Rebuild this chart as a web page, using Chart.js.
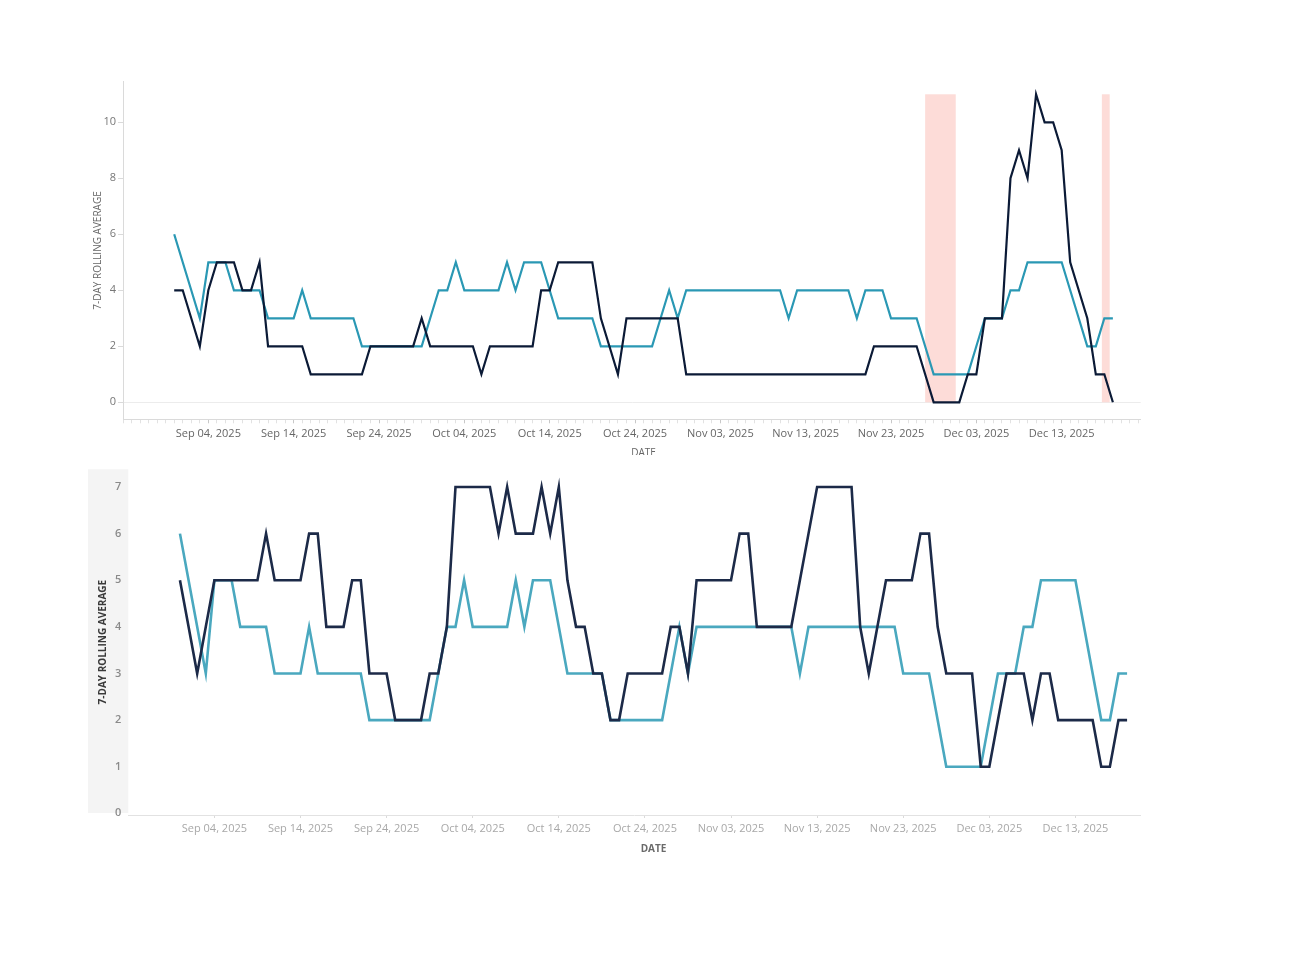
<!DOCTYPE html>
<html><head><meta charset="utf-8">
<script src="https://cdn.jsdelivr.net/npm/chart.js@4.4.1/dist/chart.umd.min.js"></script>
<style>
html,body{margin:0;padding:0;background:#fff;}
#wrap{position:relative;width:1304px;height:978px;overflow:hidden;background:#fff;}
#top{position:absolute;left:0;top:0;width:1304px;height:455px;overflow:hidden;}
#bot{position:absolute;left:0;top:455px;width:1304px;height:420px;background:#fff;}
canvas{display:block;}
</style></head><body>
<div id="wrap">
<div id="top"><canvas id="c1" width="1304" height="470"></canvas></div>
<div id="bot"><canvas id="c2" width="1304" height="420"></canvas></div>
</div>
<script>
// ---------- data ----------
const axisStartDate = '2025-08-25';
const firstDataDate = '2025-08-31';
const xTitleText = 'DATE';
const yTitleText = '7-DAY ROLLING AVERAGE';
const xTickLabels = ['Sep 04, 2025','Sep 14, 2025','Sep 24, 2025','Oct 04, 2025','Oct 14, 2025','Oct 24, 2025','Nov 03, 2025','Nov 13, 2025','Nov 23, 2025','Dec 03, 2025','Dec 13, 2025'];
const yTicksTop = [0,2,4,6,8,10];
const yTicksBottom = [0,1,2,3,4,5,6,7];

const topNavy = [4,4,3,2,4,5,5,5,4,4,5, 2,2,2,2,2, 1,1,1,1,1,1,1, 2,2,2,2,2,2, 3, 2,2,2,2,2,2, 1, 2,2,2,2,2,2, 4,4, 5,5,5,5,5, 3,2,1, 3,3,3,3,3,3,3,
  1,1,1,1,1,1,1,1,1,1,1,1,1,1,1,1,1,1,1,1,1,1, 2,2,2,2,2,2, 1, 0,0,0,0, 1,1, 3,3,3, 8,9,8,11,10,10,9,5,4,3,1,1,0];
const topTeal = [6,5,4,3,5,5,5,4,4,4,4, 3,3,3,3, 4, 3,3,3,3,3,3, 2,2,2,2,2,2,2,2, 3, 4,4, 5, 4,4,4,4,4, 5,4, 5,5,5, 4, 3,3,3,3,3, 2,2,2,2,2,2,2, 3,4,3,
  4,4,4,4,4,4,4,4,4,4,4,4, 3, 4,4,4,4,4,4,4, 3, 4,4,4, 3,3,3,3, 2, 1,1,1,1,1, 2, 3,3,3, 4,4, 5,5,5,5,5, 4,3, 2,2, 3,3];
const bottomNavy = [5,4,3,4,5, 5,5,5,5,5, 6, 5,5,5,5, 6,6, 4,4,4, 5,5, 3,3,3, 2,2,2,2, 3,3, 4, 7,7,7,7,7, 6,7, 6,6,6, 7,6,7, 5,4,4, 3,3, 2,2, 3,3,3,3,3, 4,4, 3,
  5,5,5,5,5, 6,6, 4,4,4,4,4, 5,6, 7,7,7,7,7, 4,3,4, 5,5,5,5, 6,6, 4, 3,3,3,3, 1,1, 2, 3,3,3, 2, 3,3, 2,2,2,2,2, 1,1, 2,2];
const bottomTeal = [6,5,4,3,5,5,5,4,4,4,4, 3,3,3,3, 4, 3,3,3,3,3,3, 2,2,2,2,2,2,2,2, 3, 4,4, 5, 4,4,4,4,4, 5,4, 5,5,5, 4, 3,3,3,3,3, 2,2,2,2,2,2,2, 3,4,3,
  4,4,4,4,4,4,4,4,4,4,4,4, 3, 4,4,4,4,4,4,4, 4, 4,4,4, 3,3,3,3, 2, 1,1,1,1,1, 2, 3,3,3, 4,4, 5,5,5,5,5, 4,3, 2,2, 3,3];
// highlighted date ranges on the top chart
const shadedRanges = [['2025-11-27T00:00','2025-11-30T14:00'], ['2025-12-17T17:00','2025-12-18T15:00']];

// ---------- helpers ----------
const DAY = 86400000;
const t0 = Date.parse(axisStartDate + 'T00:00:00Z');
const dayOfIso = s => (Date.parse(s + (s.length === 10 ? 'T00:00:00Z' : ':00Z')) - t0) / DAY;
const dayOfLabel = s => { const d = new Date(s); return (Date.UTC(d.getFullYear(), d.getMonth(), d.getDate()) - t0) / DAY; };
const firstDay = dayOfIso(firstDataDate);
const toPoints = arr => arr.map((v, i) => ({x: firstDay + i, y: v}));
const labelMap = {};
xTickLabels.forEach(l => { labelMap[dayOfLabel(l)] = l; });

const shadePlugin = {
  id: 'shade',
  beforeDatasetsDraw(chart, args, opts) {
    if (!opts.ranges) return;
    const {ctx, scales: {x, y}} = chart;
    ctx.save();
    ctx.fillStyle = opts.color;
    const yTop = y.getPixelForValue(opts.top), yBot = y.getPixelForValue(0);
    opts.ranges.forEach(([a, b]) => {
      const x1 = x.getPixelForValue(dayOfIso(a)), x2 = x.getPixelForValue(dayOfIso(b));
      ctx.fillRect(x1, yTop, x2 - x1, yBot - yTop);
    });
    ctx.restore();
  }
};
const bandPlugin = {
  id: 'band',
  beforeDraw(chart, args, opts) {
    if (!opts.color) return;
    const {ctx, chartArea} = chart;
    ctx.save();
    ctx.fillStyle = opts.color;
    ctx.fillRect(opts.left, chartArea.top, chartArea.left - opts.left, chartArea.bottom - chartArea.top - 2);
    ctx.restore();
  }
};
// x-axis title, centred on the middle of Tableau's full date axis
const xTitlePlugin = {
  id: 'xTitle',
  afterDraw(chart, args, opts) {
    const {ctx, scales: {x}} = chart;
    ctx.save();
    ctx.font = (opts.weight || 'normal') + ' 10px "Open Sans"';
    ctx.fillStyle = opts.color;
    ctx.textAlign = 'center';
    ctx.textBaseline = 'middle';
    ctx.fillText(xTitleText, x.getPixelForValue(opts.centerDay), x.bottom - 6);
    ctx.restore();
  }
};

function makeChart(id, cfg) {
  return new Chart(document.getElementById(id), {
    type: 'line',
    data: {
      datasets: [
        {data: toPoints(cfg.navy), borderColor: cfg.navyColor, borderWidth: cfg.lw, pointRadius: 0, tension: 0, order: 1},
        {data: toPoints(cfg.teal), borderColor: cfg.tealColor, borderWidth: cfg.lw, pointRadius: 0, tension: 0, order: 2}
      ]
    },
    options: {
      responsive: false, animation: false, events: [],
      layout: {padding: cfg.padding},
      plugins: {
        legend: {display: false}, tooltip: {enabled: false},
        shade: cfg.shade || {},
        band: cfg.band || {},
        xTitle: {color: cfg.xTitleColor, weight: cfg.titleWeight, centerDay: cfg.titleDay}
      },
      scales: {
        x: {
          type: 'linear', min: 0, max: cfg.xMax,
          afterBuildTicks: s => { const t = []; for (let d = 0; d <= Math.floor(cfg.xMax); d++) t.push({value: d}); s.ticks = t; },
          afterFit: s => { s.height = cfg.xH; },
          ticks: {autoSkip: false, maxRotation: 0, minRotation: 0, padding: cfg.xTickPad, color: cfg.xTickColor,
            font: {family: 'Open Sans', size: 11}, callback: v => labelMap[v] || ''},
          grid: {drawOnChartArea: false, tickLength: cfg.xTickLen, color: 'rgba(0,0,0,0)',
            tickColor: c => labelMap[c.tick && c.tick.value] ? cfg.majorTick : cfg.minorTick},
          border: {display: true, color: cfg.xBorder, dash: cfg.xDash},
          title: {display: false}
        },
        y: {
          min: cfg.yMin, max: cfg.yMax,
          afterBuildTicks: s => { s.ticks = cfg.yTicks.map(v => ({value: v})); },
          afterFit: s => { s.width = cfg.yW; },
          ticks: {padding: cfg.yTickPad, color: cfg.yTickColor, font: {family: 'Open Sans', size: 11, weight: cfg.yTickWeight}},
          grid: {drawOnChartArea: cfg.zeroLine, tickLength: cfg.yTickLen,
            color: c => (c.tick && c.tick.value === 0) ? '#ececec' : 'rgba(0,0,0,0)', tickColor: cfg.yTickMark},
          border: {display: cfg.yBorder !== null, color: cfg.yBorder || 'rgba(0,0,0,0)'},
          title: {display: true, text: yTitleText, color: cfg.yTitleColor, padding: 0,
            font: {family: 'Open Sans', size: 10, weight: cfg.titleWeight, lineHeight: 1.2}}
        }
      }
    },
    plugins: [shadePlugin, bandPlugin, xTitlePlugin]
  });
}

makeChart('c1', {
  navy: topNavy, teal: topTeal, navyColor: '#0b1a36', tealColor: '#2a98b4', lw: 2.2,
  padding: {left: 92.3, right: 163.3, top: 81.7, bottom: 11},
  xMax: 119.26, xH: 39.7, xTickPad: 4, xTickLen: 4, xTickColor: '#666',
  majorTick: '#c8c8c8', minorTick: '#e2e2e2', xBorder: '#dadada', xDash: [],
  xTitleColor: '#666', titleWeight: 'normal', titleDay: 61,
  yMin: -0.607, yMax: 11.45, yTicks: yTicksTop, yW: 30.7, yTickPad: 2, yTickLen: 5,
  yTickColor: '#777', yTickWeight: 'normal', zeroLine: true, yTickMark: '#dadada', yBorder: '#dadada',
  yTitleColor: '#666',
  shade: {ranges: shadedRanges, color: '#fddcd8', top: Math.max(...topNavy)}
});

makeChart('c2', {
  navy: bottomNavy, teal: bottomTeal, navyColor: '#1c2a48', tealColor: '#4aa8bf', lw: 2.6,
  padding: {left: 97.3, right: 164, top: 14.3, bottom: 20},
  xMax: 117.5, xH: 40, xTickPad: 4.5, xTickLen: 3, xTickColor: '#a8a8a8',
  majorTick: '#dadada', minorTick: 'rgba(0,0,0,0)', xBorder: '#e2e2e2', xDash: [2, 2],
  xTitleColor: '#6a6a6a', titleWeight: 'bold', titleDay: 61,
  yMin: -0.036, yMax: 7.38, yTicks: yTicksBottom, yW: 31, yTickPad: 2, yTickLen: 5,
  yTickColor: '#8a8a8a', yTickWeight: '600', zeroLine: false, yTickMark: 'rgba(0,0,0,0)', yBorder: null,
  yTitleColor: '#3a3a3a',
  band: {color: '#f4f4f4', left: 88}
});
</script>
</body></html>
